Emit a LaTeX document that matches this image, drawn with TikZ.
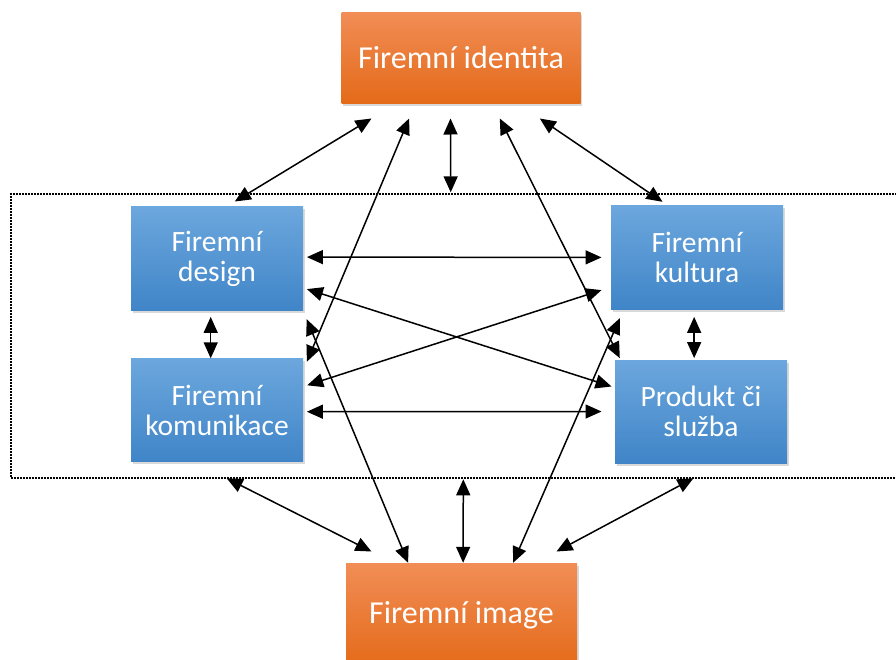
\documentclass[tikz,border=0pt]{standalone}
\usepackage{fontspec}
\setmainfont{Carlito}
\usetikzlibrary{arrows.meta,shadows,calc}
\definecolor{orTop}{RGB}{241,141,86}
\definecolor{orBot}{RGB}{228,106,24}
\definecolor{blTop}{RGB}{108,167,221}
\definecolor{blBot}{RGB}{64,133,200}
\tikzset{
  orbox/.style={rectangle, inner sep=0pt, top color=orTop, bottom color=orBot, draw=none,
    text=white, font=\fontsize{32}{36}\selectfont, align=center,
    drop shadow={shadow xshift=1.5pt, shadow yshift=-2.5pt, opacity=0.3}},
  blbox/.style={rectangle, inner sep=0pt, minimum width=172pt, minimum height=103pt,
    top color=blTop, bottom color=blBot, draw=none,
    text=white, font=\fontsize{29.5}{30}\selectfont, align=center,
    drop shadow={shadow xshift=1.5pt, shadow yshift=-2.5pt, opacity=0.3}},
  frm/.style={rectangle, draw=black, line width=2pt, dash pattern=on 1.6pt off 1.4pt, inner sep=0pt},
  dbl/.style={line width=1.5pt, {Triangle[length=16pt,width=14pt]}-{Triangle[length=16pt,width=14pt]}}
}
\begin{document}
\begin{tikzpicture}[x=1pt,y=-1pt]
\useasboundingbox (0,0) rectangle (896,660);
\node[frm, minimum width=894pt, minimum height=283pt] (frame) at (458,336) {};
\node[orbox, minimum width=239pt, minimum height=91pt] (identity) at (461,58) {Firemní identita};
\node[orbox, minimum width=231pt, minimum height=105pt] (image) at (461.5,615.5) {Firemní image};
\node[blbox] (design) at (217,258.5) {Firemní\\design};
\node[blbox] (komunikace) at (217,410) {Firemní\\komunikace};
\node[blbox] (kultura) at (697,257.5) {Firemní\\kultura};
\node[blbox] (produkt) at (701,411.5) {Produkt či\\služba};

% from identity
\draw[dbl] ($(identity.south west)+(30.2,14.8)$) -- ($(design.north west)+(104,-5.3)$);
\draw[dbl] ($(identity.south west)+(67.8,14.8)$) -- ($(komunikace.north east)+(3.7,3.4)$);
\draw[dbl] ($(identity.south west)+(109.2,14.8)$) -- ($(frame.north)+(-7.3,-1.2)$);
\draw[dbl] ($(identity.south west)+(158.5,14.8)$) -- ($(produkt.north west)+(5,-1.7)$);
\draw[dbl] ($(identity.south west)+(198.5,14.8)$) -- ($(kultura.north west)+(51.7,-4)$);

% to image
\draw[dbl] ($(design.south east)+(3.5,9)$) -- ($(image.north west)+(62.3,0)$);
\draw[dbl] ($(kultura.south west)+(9,9)$) -- ($(image.north west)+(167.3,0)$);
\draw[dbl] ($(komunikace.south)+(9.7,16.6)$) -- ($(image.north west)+(25.7,-11.3)$);
\draw[dbl] ($(frame.south)+(5.3,0.8)$) -- ($(image.north west)+(117.3,0)$);
\draw[dbl] ($(produkt.south)+(-7.5,15)$) -- ($(image.north west)+(210.7,-11.3)$);

% horizontal / crossing
\draw[dbl] ($(design.north east)+(3.7,50.3)$) -- ($(kultura.north west)+(-9.3,51.6)$);
\draw[dbl] ($(design.north east)+(3.7,82.3)$) -- ($(produkt.north west)+(-3.3,26.7)$);
\draw[dbl] ($(komunikace.north east)+(4,27)$) -- ($(kultura.north west)+(-9.3,84.3)$);
\draw[dbl] ($(komunikace.north east)+(3.7,53.4)$) -- ($(produkt.north west)+(-13.3,51.7)$);

% vertical pairs
\draw[dbl] ($(design.south)+(-6.3,6.7)$) -- ($(komunikace.north)+(-6.3,0)$);
\draw[dbl] ($(kultura.south)+(-2.85,7.7)$) -- ($(produkt.north)+(-6.85,-1.7)$);
\end{tikzpicture}
\end{document}
